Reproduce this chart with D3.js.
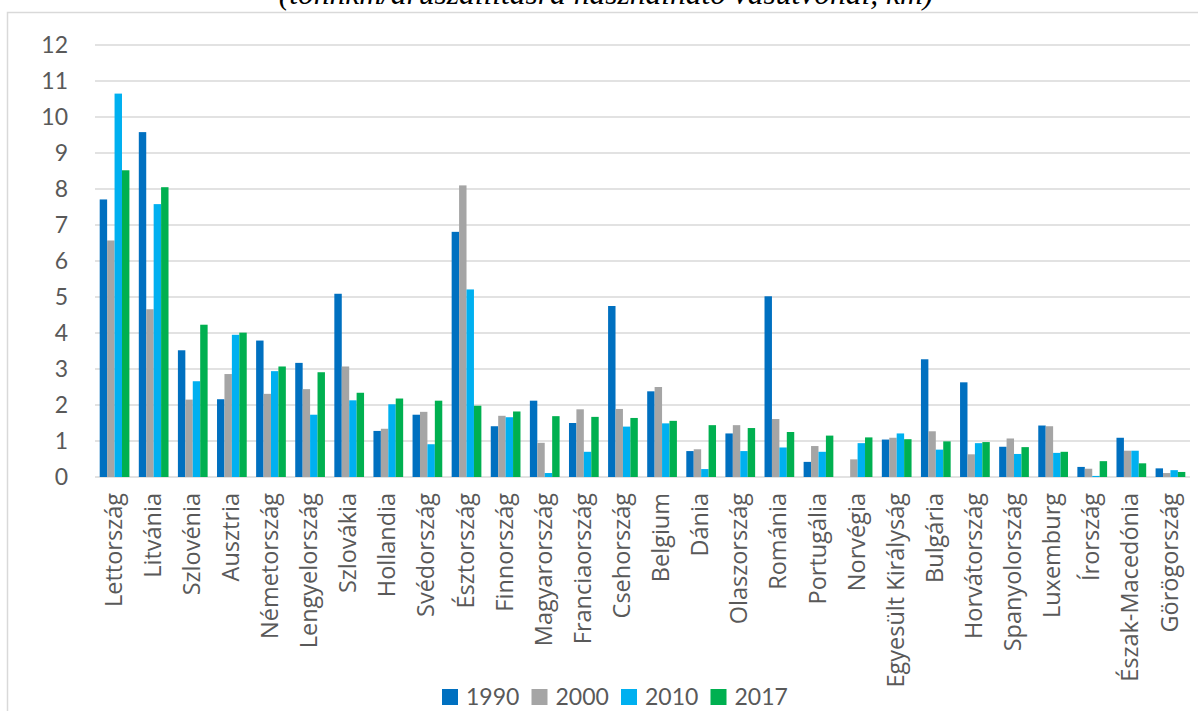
<!DOCTYPE html>
<html>
<head>
<meta charset="utf-8">
<script src="https://cdn.jsdelivr.net/npm/d3@7"></script>
<style>
  html, body { margin: 0; padding: 0; background: #fff; }
  svg { display: block; }
</style>
</head>
<body>
<svg id="chart" width="1198" height="711"></svg>
<script>
// Vasúti árufuvarozás intenzitása országonként
const countries = ["Lettország","Litvánia","Szlovénia","Ausztria","Németország","Lengyelország","Szlovákia","Hollandia","Svédország","Észtország","Finnország","Magyarország","Franciaország","Csehország","Belgium","Dánia","Olaszország","Románia","Portugália","Norvégia","Egyesült Királyság","Bulgária","Horvátország","Spanyolország","Luxemburg","Írország","Észak-Macedónia","Görögország"];
const years = ["1990","2000","2010","2017"];
const v1990 = [7.71,9.58,3.52,2.16,3.79,3.17,5.09,1.28,1.73,6.81,1.41,2.12,1.50,4.75,2.38,0.72,1.21,5.02,0.42,0,1.04,3.27,2.63,0.84,1.43,0.28,1.09,0.24];
const v2000 = [6.57,4.66,2.15,2.86,2.31,2.44,3.07,1.34,1.81,8.10,1.70,0.95,1.88,1.89,2.50,0.77,1.44,1.61,0.86,0.49,1.09,1.27,0.63,1.07,1.41,0.23,0.73,0.11];
const v2010 = [10.65,7.58,2.66,3.95,2.94,1.73,2.13,2.02,0.91,5.21,1.66,0.11,0.70,1.40,1.49,0.22,0.72,0.82,0.70,0.94,1.21,0.76,0.94,0.64,0.67,0.03,0.73,0.19];
const v2017 = [8.52,8.05,4.23,4.01,3.07,2.91,2.34,2.18,2.12,1.98,1.82,1.69,1.67,1.64,1.56,1.44,1.36,1.25,1.15,1.10,1.05,0.99,0.97,0.83,0.70,0.44,0.38,0.14];
const yTicks = [0,1,2,3,4,5,6,7,8,9,10,11,12];
const titleText = "(tonnkm/áruszállításra használható vasútvonal, km)";

const seriesValues = [v1990, v2000, v2010, v2017];
const colors = ["#0070C0", "#A5A5A5", "#00B0F0", "#00B050"];

const svg = d3.select("#chart");
const W = 1198, H = 711;
const plot = { left: 95, right: 1190, top: 45, bottom: 477 };
const font = "Lato, 'Open Sans', sans-serif";
const labelFont = "'Open Sans', Lato, sans-serif";
const textColor = "#595959";
const gridColor = "#D9D9D9";

// chart frame
svg.append("rect")
  .attr("x", 7.5).attr("y", 12.5)
  .attr("width", W + 20).attr("height", H + 20)
  .attr("fill", "#fff")
  .attr("stroke", gridColor).attr("stroke-width", 1.5);

// title, its upper part runs past the top edge
svg.append("text")
  .attr("x", 606).attr("y", 4)
  .attr("text-anchor", "middle")
  .attr("font-family", "'Liberation Serif', 'DejaVu Serif', serif")
  .attr("font-style", "italic")
  .attr("font-size", 31.5)
  .attr("fill", "#000")
  .text(titleText);

const x = d3.scaleBand()
  .domain(countries)
  .range([plot.left, plot.right])
  .paddingInner(0.24)
  .paddingOuter(0.12);

const xs = d3.scaleBand()
  .domain(years)
  .range([0, x.bandwidth()])
  .padding(0);

const y = d3.scaleLinear()
  .domain([0, 12])
  .range([plot.bottom, plot.top]);

// gridlines
svg.append("g")
  .selectAll("line")
  .data(yTicks)
  .join("line")
  .attr("x1", plot.left).attr("x2", plot.right)
  .attr("y1", d => y(d)).attr("y2", d => y(d))
  .attr("stroke", gridColor).attr("stroke-width", 1.5);

// y axis labels
const yAxis = d3.axisLeft(y).tickValues(yTicks).tickSize(0).tickPadding(0).tickFormat(d3.format("d"));
const yg = svg.append("g")
  .attr("transform", `translate(68,0)`)
  .call(yAxis);
yg.select(".domain").remove();
yg.selectAll("text")
  .attr("font-family", font)
  .attr("font-size", 23)
  .attr("fill", textColor);

// bars
const groups = svg.append("g")
  .selectAll("g")
  .data(countries)
  .join("g")
  .attr("transform", d => `translate(${x(d)},0)`);

groups.selectAll("rect")
  .data((c, i) => years.map((yr, s) => ({ yr, s, v: seriesValues[s][i] })))
  .join("rect")
  .attr("x", d => xs(d.yr))
  .attr("width", xs.bandwidth())
  .attr("y", d => y(d.v))
  .attr("height", d => y(0) - y(d.v))
  .attr("fill", d => colors[d.s]);

// category labels (rotated)
const xAxis = d3.axisBottom(x).tickSize(0).tickPadding(0);
const xg = svg.append("g")
  .attr("transform", `translate(0,${plot.bottom})`)
  .call(xAxis);
xg.select(".domain").remove();
xg.selectAll("text")
  .attr("font-family", labelFont)
  .attr("font-size", 23.5)
  .attr("fill", textColor)
  .attr("text-anchor", "end")
  .attr("transform", "rotate(-90)")
  .attr("x", -16)
  .attr("y", 0)
  .attr("dy", "0.3em");

// legend
const legendX0 = 442, legendStep = 89.5, legendY = 689;
const lg = svg.append("g")
  .selectAll("g")
  .data(years)
  .join("g")
  .attr("transform", (d, i) => `translate(${legendX0 + i * legendStep},${legendY})`);
lg.append("rect")
  .attr("width", 16).attr("height", 16)
  .attr("fill", (d, i) => colors[i]);
lg.append("text")
  .attr("x", 24).attr("y", 16)
  .attr("font-family", font)
  .attr("font-size", 23)
  .attr("fill", textColor)
  .text(d => d);
</script>
</body>
</html>
